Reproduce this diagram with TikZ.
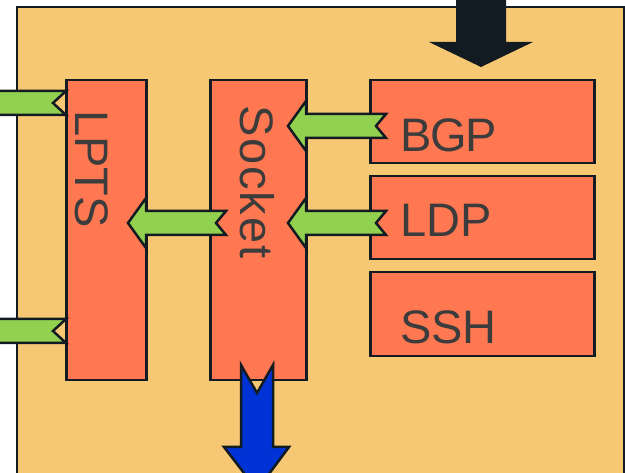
\documentclass[tikz,border=0pt]{standalone}
\usepackage{fontspec}
\setmainfont{Liberation Sans}
\definecolor{bgc}{HTML}{F7C873}
\definecolor{boxc}{HTML}{FF7852}
\definecolor{greenc}{HTML}{92D050}
\definecolor{bluec}{HTML}{0033D6}
\definecolor{darkc}{HTML}{131B22}
\definecolor{textc}{HTML}{3C3C3C}
\tikzset{
  edge/.style={draw=darkc, line width=2.5pt, line join=miter},
  block/.style={edge, fill=boxc, rectangle, inner sep=0pt, anchor=north west},
  label/.style={text=textc, inner sep=0pt, font=\fontsize{47}{50}\selectfont},
  garrow/.style={edge, fill=greenc},
  barrow/.style={edge, fill=bluec},
}
\begin{document}
\begin{tikzpicture}[x=1pt,y=-1pt]
\useasboundingbox (0,0) rectangle (625,473);
\clip (0,0) rectangle (625,473);
% outer frame
\draw[edge, fill=bgc] (17,7) rectangle (624,520);
% blocks
\node[block, minimum width=80pt, minimum height=300pt] (lpts) at (65,79) {};
\node[block, minimum width=96pt, minimum height=300pt] (socket) at (209,79) {};
\node[block, minimum width=224pt, minimum height=83pt] (bgp) at (369,79) {};
\node[block, minimum width=224pt, minimum height=83pt] (ldp) at (369,175) {};
\node[block, minimum width=224pt, minimum height=84pt] (ssh) at (369,271) {};
% top dark arrow
\fill[darkc] (456,-5) -- (506,-5) -- (506,42) -- (533,42) -- (481,67) -- (429,42) -- (456,42) -- cycle;
% green arrows out of LPTS (left)
\draw[garrow] (-10,91) -- (66,91) -- (53,103) -- (66,115) -- (-10,115) -- cycle;
\draw[garrow] (-10,319) -- (66,319) -- (53,331) -- (66,343) -- (-10,343) -- cycle;
% green arrow Socket -> LPTS
\draw[garrow] (226,211) -- (216,223) -- (226,235) -- (146,235) -- (146,248) -- (128,223) -- (146,198) -- (146,211) -- cycle;
% green arrow BGP -> Socket
\draw[garrow] (386,114) -- (376,126) -- (386,138) -- (306,138) -- (306,151) -- (288,126) -- (306,101) -- (306,114) -- cycle;
% green arrow LDP -> Socket
\draw[garrow] (386,211) -- (376,223) -- (386,235) -- (306,235) -- (306,248) -- (288,223) -- (306,198) -- (306,211) -- cycle;
% blue arrow down from Socket
\draw[barrow] (241,365) -- (257,393) -- (273,365) -- (273,447) -- (289,447) -- (257,490) -- (224,447) -- (241,447) -- cycle;
% labels
\node[label, rotate=-90, anchor=base west] (tlpts) at (75,110) {LPTS};
\node[label, rotate=-90, anchor=base west] (tsocket) at (240,105) {\addfontfeatures{LetterSpace=4.0}Socket};
\node[label, anchor=base west] (tbgp) at (400,152) {\addfontfeatures{LetterSpace=-3.0}BGP};
\node[label, anchor=base west] (tldp) at (400,237) {LDP};
\node[label, anchor=base west] (tssh) at (400,344) {SSH};
\end{tikzpicture}
\end{document}
